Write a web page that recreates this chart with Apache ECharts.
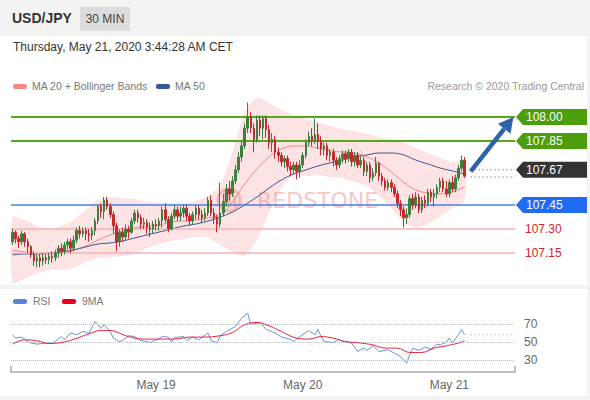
<!DOCTYPE html>
<html><head><meta charset="utf-8">
<script src="https://cdn.jsdelivr.net/npm/echarts@6/dist/echarts.min.js"></script>
<style>
html,body{margin:0;padding:0;width:590px;height:400px;overflow:hidden;background:#f3f3f3;font-family:"Liberation Sans",Arial,sans-serif;}
.abs{position:absolute;}
#pair{left:12px;top:9px;font-weight:bold;font-size:14px;color:#333;line-height:18px;}
#tf{left:80px;top:7px;width:50px;height:24px;background:#dcdcdc;color:#444;font-size:12px;line-height:24px;text-align:center;}
#p1{left:0;top:36px;width:587px;height:249px;background:#fff;}
#p2{left:0;top:289px;width:587px;height:107px;background:#fff;}
#date{left:13px;top:40px;font-size:12px;color:#333;line-height:15px;}
.lg{font-size:10.5px;color:#777;line-height:12px;}
.sw{height:5px;width:14px;border-radius:2px;}
#chart{left:0;top:0;width:590px;height:400px;}
</style></head>
<body>
<div class="abs" id="pair">USD/JPY</div>
<div class="abs" id="tf">30 MIN</div>
<div class="abs" id="p1"></div>
<div class="abs" id="p2"></div>
<div class="abs" id="date">Thursday, May 21, 2020 3:44:28 AM CET</div>
<div class="abs sw" style="left:13px;top:84px;background:#f08a8a"></div>
<div class="abs lg" style="left:32px;top:80px">MA 20 + Bollinger Bands</div>
<div class="abs sw" style="left:156px;top:84px;background:#34589a"></div>
<div class="abs lg" style="left:175px;top:80px">MA 50</div>
<div class="abs lg" style="right:6px;top:80px;color:#999">Research © 2020 Trading Central</div>
<div class="abs sw" style="left:13px;top:299px;background:#5b82d8"></div>
<div class="abs lg" style="left:33px;top:295px">RSI</div>
<div class="abs sw" style="left:62px;top:299px;background:#e8001c"></div>
<div class="abs lg" style="left:82px;top:295px">9MA</div>
<div class="abs" id="chart"></div>
<script>
// ---- data ----
const ohlc = [ // [open, close, low, high]
[107.22,107.28,107.20,107.30],[107.28,107.24,107.21,107.29],[107.24,107.22,107.18,107.26],[107.22,107.27,107.20,107.29],
[107.27,107.22,107.19,107.28],[107.22,107.19,107.15,107.24],[107.19,107.14,107.12,107.20],[107.14,107.10,107.07,107.16],
[107.10,107.12,107.06,107.14],[107.12,107.10,107.06,107.14],[107.10,107.12,107.07,107.15],[107.12,107.11,107.08,107.14],
[107.11,107.13,107.08,107.15],[107.13,107.12,107.09,107.16],[107.12,107.15,107.10,107.17],[107.15,107.18,107.12,107.20],
[107.18,107.16,107.13,107.21],[107.16,107.20,107.14,107.22],[107.20,107.22,107.17,107.24],[107.22,107.18,107.15,107.24],
[107.18,107.23,107.16,107.26],[107.23,107.29,107.21,107.31],[107.29,107.27,107.24,107.32],[107.27,107.29,107.25,107.31],
[107.29,107.27,107.23,107.31],[107.27,107.26,107.22,107.30],[107.26,107.29,107.23,107.31],[107.29,107.35,107.26,107.37],
[107.35,107.44,107.33,107.45],[107.44,107.41,107.37,107.46],[107.41,107.48,107.36,107.50],[107.48,107.44,107.42,107.50],
[107.44,107.39,107.37,107.46],[107.39,107.32,107.27,107.41],[107.32,107.22,107.16,107.34],[107.22,107.28,107.19,107.30],
[107.28,107.25,107.22,107.31],[107.25,107.30,107.23,107.33],[107.30,107.28,107.24,107.32],[107.28,107.35,107.27,107.37],
[107.35,107.40,107.33,107.42],[107.40,107.37,107.34,107.42],[107.37,107.33,107.30,107.39],[107.33,107.34,107.30,107.37],
[107.34,107.31,107.27,107.36],[107.31,107.30,107.25,107.34],[107.30,107.33,107.27,107.35],[107.33,107.32,107.29,107.36],
[107.32,107.35,107.29,107.37],[107.35,107.42,107.31,107.44],[107.42,107.36,107.34,107.46],[107.36,107.30,107.28,107.38],
[107.30,107.38,107.29,107.40],[107.38,107.42,107.36,107.45],[107.42,107.38,107.35,107.44],[107.38,107.40,107.35,107.44],
[107.40,107.43,107.37,107.45],[107.43,107.38,107.35,107.45],[107.38,107.35,107.32,107.40],[107.35,107.39,107.33,107.41],
[107.39,107.43,107.36,107.45],[107.43,107.39,107.36,107.45],[107.39,107.37,107.34,107.42],[107.37,107.40,107.35,107.43],
[107.40,107.48,107.38,107.50],[107.48,107.40,107.38,107.51],[107.40,107.37,107.33,107.43],[107.37,107.33,107.28,107.39],
[107.33,107.40,107.31,107.59],[107.40,107.47,107.38,107.52],[107.47,107.55,107.44,107.58],[107.55,107.52,107.48,107.60],
[107.52,107.60,107.50,107.63],[107.60,107.67,107.58,107.70],[107.67,107.75,107.65,107.78],[107.75,107.82,107.72,107.85],
[107.82,107.93,107.80,107.96],[107.93,108.00,107.90,108.09],[108.00,107.93,107.90,108.03],[107.93,107.86,107.78,107.96],
[107.86,107.98,107.84,108.01],[107.98,107.93,107.88,108.01],[107.93,107.99,107.86,108.01],[107.99,107.92,107.87,108.01],
[107.92,107.84,107.80,107.95],[107.84,107.86,107.78,107.90],[107.86,107.78,107.74,107.88],[107.78,107.76,107.72,107.81],
[107.76,107.72,107.69,107.78],[107.72,107.74,107.68,107.76],[107.74,107.69,107.66,107.76],[107.69,107.67,107.63,107.72],
[107.67,107.70,107.64,107.72],[107.70,107.66,107.61,107.72],[107.66,107.70,107.62,107.73],[107.70,107.76,107.68,107.78],
[107.76,107.84,107.74,107.86],[107.84,107.88,107.82,107.91],[107.88,107.85,107.82,107.93],[107.85,107.89,107.83,107.99],
[107.89,107.85,107.80,107.96],[107.85,107.80,107.76,107.88],[107.80,107.82,107.76,107.84],[107.82,107.76,107.73,107.84],
[107.76,107.78,107.72,107.80],[107.78,107.73,107.69,107.80],[107.73,107.70,107.67,107.75],[107.70,107.74,107.68,107.76],
[107.74,107.77,107.71,107.79],[107.77,107.74,107.71,107.79],[107.74,107.78,107.72,107.80],[107.78,107.72,107.69,107.80],
[107.72,107.76,107.69,107.78],[107.76,107.70,107.68,107.78],[107.70,107.73,107.68,107.76],[107.73,107.66,107.63,107.75],
[107.66,107.70,107.63,107.72],[107.70,107.62,107.59,107.72],[107.62,107.65,107.60,107.68],[107.65,107.71,107.63,107.75],
[107.71,107.63,107.60,107.72],[107.63,107.60,107.57,107.65],[107.60,107.56,107.54,107.62],[107.56,107.59,107.54,107.61],
[107.59,107.56,107.53,107.61],[107.56,107.52,107.50,107.58],[107.52,107.46,107.43,107.54],[107.46,107.42,107.38,107.48],
[107.42,107.37,107.31,107.44],[107.37,107.39,107.33,107.43],[107.39,107.49,107.37,107.51],[107.49,107.45,107.42,107.52],
[107.45,107.50,107.43,107.53],[107.50,107.42,107.40,107.52],[107.42,107.48,107.40,107.50],[107.48,107.46,107.43,107.51],
[107.46,107.53,107.44,107.55],[107.53,107.50,107.47,107.55],[107.50,107.52,107.44,107.55],[107.52,107.56,107.49,107.58],
[107.56,107.60,107.53,107.62],[107.60,107.55,107.53,107.62],[107.55,107.52,107.50,107.60],[107.52,107.59,107.50,107.61],
[107.59,107.55,107.53,107.63],[107.55,107.62,107.53,107.64],[107.62,107.68,107.60,107.70],[107.68,107.73,107.66,107.76],
[107.73,107.63,107.62,107.75]
];
const bandIdx = [0,4,8,12,16,20,24,28,32,36,40,44,48,52,56,60,64,68,72,76,80,84,88,92,96,100,104,108,112,116,120,124,128,132,136,140,144,148];
const bbUpper = [107.375,107.356,107.319,107.300,107.319,107.356,107.419,107.481,107.500,107.494,107.488,107.469,107.463,107.463,107.463,107.475,107.506,107.575,107.781,108.031,108.119,108.088,108.044,108.013,107.988,107.969,107.944,107.925,107.913,107.894,107.875,107.863,107.844,107.806,107.775,107.744,107.719,107.731];
const bbLower = [106.960,106.990,107.025,107.044,107.044,107.056,107.094,107.119,107.125,107.131,107.144,107.181,107.206,107.225,107.238,107.250,107.250,107.200,107.156,107.131,107.231,107.406,107.556,107.631,107.631,107.638,107.625,107.619,107.594,107.569,107.506,107.431,107.344,107.306,107.331,107.381,107.431,107.481];
const ma20 = [107.169,107.156,107.144,107.144,107.150,107.169,107.194,107.231,107.263,107.288,107.306,107.319,107.325,107.344,107.350,107.356,107.369,107.388,107.469,107.581,107.675,107.750,107.800,107.819,107.819,107.806,107.788,107.781,107.775,107.750,107.713,107.656,107.594,107.544,107.525,107.519,107.531,107.563];
const ma50 = [107.138,107.144,107.144,107.150,107.156,107.169,107.188,107.206,107.213,107.225,107.244,107.263,107.281,107.300,107.319,107.331,107.350,107.375,107.406,107.450,107.500,107.556,107.606,107.644,107.669,107.694,107.713,107.731,107.750,107.763,107.775,107.775,107.763,107.731,107.706,107.681,107.663,107.644];
const rsiIdx = [0,1,3,4,6,8,11,13,14,16,17,19,21,23,25,27,29,30,32,33,35,36,38,40,42,45,46,49,51,52,53,56,57,59,61,64,65,67,68,70,73,75,77,78,81,83,86,88,91,92,94,97,99,100,101,102,105,107,108,111,113,115,116,118,120,123,125,127,129,130,131,133,135,137,139,140,142,143,144,146,147,148];
const rsiVal = [58,54.4,55.5,53,49,47.8,49,49,50.7,56,52.5,60,58,61.6,59.8,72.5,65,69,61.6,54.4,50.7,51.5,57,56,51.8,49.6,50.7,56,55.5,50,55,56,51.8,55.5,52.5,60,51.8,49,57,61.6,67,76,81.6,69,71.5,64,60,55.5,53,50.7,56,62.7,58,64,56,50.7,49.6,53,50.7,49,39.8,43.5,41,46,39.8,41.6,38,34.4,27,36,43.5,41,44.5,42.4,47.8,47,50,54.4,49,58,64,58];
const maIdx = [0,4,8,12,16,20,25,29,32,35,38,43,48,53,58,63,68,72,76,80,84,88,93,97,101,105,109,114,118,122,126,130,134,138,142,146,148];
const maVal = [47.8,52.5,51.5,48.5,49.6,53,59,62.7,62.7,59.8,56,53.3,53.3,53.3,55.5,55.5,57,60.5,69,71.5,67.8,61.6,54.4,53.3,56,54.4,50.7,49,47,43.5,43.5,38.7,38.7,43.5,46,49,51.5];
const levelPrices = [108.00, 107.85, 107.45, 107.30, 107.15];
const levelKinds = ['res', 'res', 'piv', 'sup', 'sup'];
const lastPrice = 107.67;
const lastClose = 107.625;
const lastRsi = 58;
const rsiLevels = [70, 50, 30];
const tickIndex = [47, 95, 143];
const tickLabels = ['May 19', 'May 20', 'May 21'];
const arrowFrom = [149.8, 107.66];
const arrowTo = [163.8, 108.0];
const slotCount = 165;
// ---------------
const categories = [];
for (let i = 0; i < slotCount; i++) categories.push(String(i));
const pairs = (ix, v) => ix.map((x, k) => [x, v[k]]);

const kindStyle = {
  res: {line: '#58a61c', w: 2, tag: '#4c9e0c', text: '#fff'},
  piv: {line: '#4a7ee0', w: 1.5, tag: '#1f6cf2', text: '#fff'},
  sup: {line: '#f4b2b2', w: 1.5, tag: null, text: '#d9232d'}
};
const wm = 'rgba(236,118,118,0.42)';

function tag(x1, y, fill, txt) {
  return [
    {type: 'polygon', shape: {points: [[x1 + 1, y], [x1 + 8, y - 8], [x1 + 72, y - 8], [x1 + 72, y + 8], [x1 + 8, y + 8]]}, style: {fill: fill}},
    {type: 'text', x: x1 + 11, y: y, style: {text: txt, fill: '#fff', font: '12px "Liberation Sans", Arial, sans-serif', verticalAlign: 'middle'}}
  ];
}

const chart = echarts.init(document.getElementById('chart'), null, {renderer: 'svg'});
chart.setOption({
  animation: false,
  grid: [
    {left: 11, width: 504, top: 95, height: 190},
    {left: 11, width: 504, top: 310, height: 61.5}
  ],
  xAxis: [
    {type: 'category', gridIndex: 0, data: categories, show: false},
    {type: 'category', gridIndex: 1, data: categories,
     axisLine: {lineStyle: {color: '#aaa', width: 1.5}},
     axisTick: {show: false},
     axisLabel: {color: '#666', fontSize: 12, margin: 7,
       interval: (i) => tickIndex.indexOf(i) >= 0,
       formatter: (v, i) => { const k = tickIndex.indexOf(i); return k >= 0 ? tickLabels[k] : ''; }}}
  ],
  yAxis: [
    {type: 'value', gridIndex: 0, min: 106.95, max: 108.1375, show: false},
    {type: 'value', gridIndex: 1, min: 18, max: 85, show: false}
  ],
  graphic: [
    {type: 'line', shape: {x1: 11, y1: 366, x2: 11, y2: 372}, style: {stroke: '#aaa', lineWidth: 1.5}},
    {type: 'line', shape: {x1: 515, y1: 366, x2: 515, y2: 372}, style: {stroke: '#aaa', lineWidth: 1.5}}
  ],
  series: [
    {type: 'custom', name: 'band', xAxisIndex: 0, yAxisIndex: 0, z: 0, data: [[0, 107.5]],
     renderItem: (params, api) => {
       const pts = [];
       for (let k = 0; k < bandIdx.length; k++) pts.push(api.coord([bandIdx[k], bbUpper[k]]));
       for (let k = bandIdx.length - 1; k >= 0; k--) pts.push(api.coord([bandIdx[k], bbLower[k]]));
       return {type: 'polygon', shape: {points: pts, smooth: 0.25}, style: {fill: '#fde3e3'}};
     }},
    {type: 'custom', name: 'watermark', xAxisIndex: 0, yAxisIndex: 0, z: 1, clip: false, silent: true, data: [[0, 107.5]],
     renderItem: (params, api) => {
       const cs = params.coordSys;
       const cx = cs.x + 218, cy = cs.y + 105;
       return {type: 'group', children: [
         {type: 'circle', shape: {cx: cx, cy: cy, r: 11}, style: {fill: 'none', stroke: wm, lineWidth: 3}},
         {type: 'rect', shape: {x: cx - 6, y: cy - 7, width: 3, height: 14}, style: {fill: wm}},
         {type: 'rect', shape: {x: cx - 1, y: cy - 10, width: 3, height: 17}, style: {fill: wm}},
         {type: 'rect', shape: {x: cx + 4, y: cy - 5, width: 3, height: 12}, style: {fill: wm}},
         {type: 'text', x: cx + 28, y: cy, style: {text: 'REDSTONE', font: '22px "DejaVu Sans", sans-serif', fill: wm, verticalAlign: 'middle'}}
       ]};
     }},
    {type: 'line', name: 'MA20', xAxisIndex: 0, yAxisIndex: 0, data: pairs(bandIdx, ma20), smooth: 0.4, symbol: 'none', z: 3,
     lineStyle: {color: '#f08686', width: 1}},
    {type: 'line', name: 'MA50', xAxisIndex: 0, yAxisIndex: 0, data: pairs(bandIdx, ma50), smooth: 0.4, symbol: 'none', z: 3,
     lineStyle: {color: '#3a5592', width: 1}},
    {type: 'custom', name: 'levels', xAxisIndex: 0, yAxisIndex: 0, z: 4, clip: false,
     data: levelPrices.map((p) => [0, p]),
     renderItem: (params, api) => {
       const k = params.dataIndex;
       const st = kindStyle[levelKinds[k]];
       const cs = params.coordSys;
       const y = api.coord([0, levelPrices[k]])[1];
       const x0 = cs.x, x1 = cs.x + cs.width;
       let ch = [{type: 'line', shape: {x1: x0, y1: y, x2: x1, y2: y}, style: {stroke: st.line, lineWidth: st.w}}];
       if (st.tag) ch = ch.concat(tag(x1, y, st.tag, levelPrices[k].toFixed(2)));
       else ch.push({type: 'text', x: x1 + 10, y: y, style: {text: levelPrices[k].toFixed(2), fill: st.text, font: '12px "Liberation Sans", Arial, sans-serif', verticalAlign: 'middle'}});
       return {type: 'group', children: ch};
     }},
    {type: 'candlestick', name: 'USD/JPY', xAxisIndex: 0, yAxisIndex: 0, data: ohlc, barWidth: 2, z: 5,
     itemStyle: {color: '#3b8040', color0: '#c42a2c', borderColor: '#3b8040', borderColor0: '#c42a2c', borderWidth: 1}},
    {type: 'custom', name: 'current', xAxisIndex: 0, yAxisIndex: 0, z: 6, clip: false, data: [[0, lastPrice]],
     renderItem: (params, api) => {
       const cs = params.coordSys;
       const x1 = cs.x + cs.width;
       const p1 = api.coord([ohlc.length + 1, lastPrice]);
       const p2 = api.coord([ohlc.length + 0.5, lastClose]);
       const a = api.coord(arrowFrom), b = api.coord(arrowTo);
       const ang = Math.atan2(b[1] - a[1], b[0] - a[0]);
       const hl = 15, hw = 8;
       const bx = b[0] - hl * Math.cos(ang), by = b[1] - hl * Math.sin(ang);
       const nx = -Math.sin(ang), ny = Math.cos(ang);
       return {type: 'group', children: [
         {type: 'line', shape: {x1: p1[0], y1: p1[1], x2: x1, y2: p1[1]}, style: {stroke: '#555', lineWidth: 1, lineDash: [1, 3]}},
         {type: 'line', shape: {x1: p2[0], y1: p2[1], x2: x1, y2: p2[1]}, style: {stroke: '#555', lineWidth: 1, lineDash: [1, 3]}},
         {type: 'line', shape: {x1: a[0], y1: a[1], x2: bx, y2: by}, style: {stroke: '#2d62a8', lineWidth: 4.5}},
         {type: 'polygon', shape: {points: [[b[0], b[1]], [bx + nx * hw, by + ny * hw], [bx - nx * hw, by - ny * hw]]}, style: {fill: '#2d62a8'}}
       ].concat(tag(x1, p1[1], '#333333', lastPrice.toFixed(2)))};
     }},
    {type: 'line', name: 'RSI', xAxisIndex: 1, yAxisIndex: 1, data: pairs(rsiIdx, rsiVal), symbol: 'none', z: 4,
     lineStyle: {color: '#6d8fdc', width: 1},
     markLine: {silent: true, symbol: 'none', lineStyle: {type: 'dotted', color: '#bdbdbd', width: 1},
       label: {position: 'end', formatter: '{c}', color: '#666', fontSize: 12, distance: 9},
       data: rsiLevels.map((v) => ({yAxis: v}))}},
    {type: 'line', name: '9MA', xAxisIndex: 1, yAxisIndex: 1, data: pairs(maIdx, maVal), symbol: 'none', smooth: 0.4, z: 5,
     lineStyle: {color: '#e4263a', width: 1}},
    {type: 'custom', name: 'rsiLast', xAxisIndex: 1, yAxisIndex: 1, z: 5, data: [[0, lastRsi]],
     renderItem: (params, api) => {
       const cs = params.coordSys;
       const p = api.coord([ohlc.length + 1, lastRsi]);
       return {type: 'line', shape: {x1: p[0], y1: p[1], x2: cs.x + cs.width, y2: p[1]}, style: {stroke: '#999', lineWidth: 1, lineDash: [1, 3]}};
     }}
  ]
});
</script>
</body></html>
